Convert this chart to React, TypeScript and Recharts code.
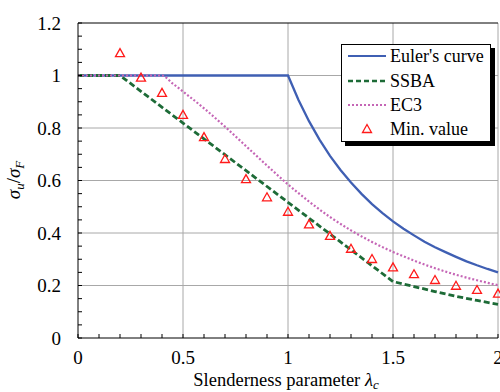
import React from 'react';
import {
  ComposedChart,
  Line,
  Scatter,
  XAxis,
  YAxis,
  CartesianGrid,
  ReferenceLine,
  Legend,
} from 'recharts';

const FONT = 'Liberation Serif, Times New Roman, DejaVu Serif, serif';

// Euler's curve
const EULER_LAMBDA = [0, 1, 1.05, 1.1, 1.15, 1.2, 1.25, 1.3, 1.35, 1.4, 1.45, 1.5, 1.55, 1.6, 1.65, 1.7, 1.75, 1.8, 1.85, 1.9, 1.95, 2];
const EULER_VALUE = [1, 1, 0.907, 0.826, 0.756, 0.694, 0.64, 0.592, 0.549, 0.51, 0.476, 0.444, 0.416, 0.391, 0.367, 0.346, 0.327, 0.309, 0.292, 0.277, 0.263, 0.25];

// SSBA
const SSBA_LAMBDA = [0, 0.2, 1.5, 1.6, 1.7, 1.8, 1.9, 2];
const SSBA_VALUE = [1, 1, 0.215, 0.196, 0.177, 0.159, 0.143, 0.128];

// EC3
const EC3_LAMBDA = [0, 0.4, 0.45, 0.5, 0.6, 0.7, 0.8, 0.9, 1, 1.1, 1.2, 1.3, 1.4, 1.5, 1.6, 1.7, 1.8, 1.9, 2];
const EC3_VALUE = [1, 1, 0.97, 0.939, 0.875, 0.805, 0.731, 0.657, 0.585, 0.52, 0.461, 0.41, 0.366, 0.328, 0.295, 0.266, 0.241, 0.22, 0.201];

// Min. value
const MIN_LAMBDA = [0.2, 0.3, 0.4, 0.5, 0.6, 0.7, 0.8, 0.9, 1, 1.1, 1.2, 1.3, 1.4, 1.5, 1.6, 1.7, 1.8, 1.9, 2];
const MIN_VALUE = [1.085, 0.992, 0.934, 0.85, 0.765, 0.682, 0.605, 0.536, 0.481, 0.433, 0.389, 0.34, 0.301, 0.269, 0.243, 0.221, 0.199, 0.183, 0.169];

const X_TICKS = [0, 0.1, 0.2, 0.3, 0.4, 0.5, 0.6, 0.7, 0.8, 0.9, 1, 1.1, 1.2, 1.3, 1.4, 1.5, 1.6, 1.7, 1.8, 1.9, 2];
const X_LABELS = [0, 0.5, 1, 1.5, 2];
const Y_TICKS = [0, 0.05, 0.1, 0.15, 0.2, 0.25, 0.3, 0.35, 0.4, 0.45, 0.5, 0.55, 0.6, 0.65, 0.7, 0.75, 0.8, 0.85, 0.9, 0.95, 1, 1.05, 1.1, 1.15, 1.2];
const Y_LABELS = [0, 0.2, 0.4, 0.6, 0.8, 1, 1.2];

const LEGEND_ITEMS = ["Euler's curve", 'SSBA', 'EC3', 'Min. value'];

const BLUE = '#3f5fb3';
const GREEN = '#1d6b37';
const PURPLE = '#c566b6';
const RED = '#ff1a1a';
const GRID = '#a8a8a8';

const toPoints = (xs: number[], ys: number[]) => xs.map((x, i) => ({ x, y: ys[i] }));

const eulerData = toPoints(EULER_LAMBDA, EULER_VALUE);
const ssbaData = toPoints(SSBA_LAMBDA, SSBA_VALUE);
const ec3Data = toPoints(EC3_LAMBDA, EC3_VALUE);
const minData = toPoints(MIN_LAMBDA, MIN_VALUE);

const isLabel = (list: number[]) => (v: number) =>
  list.some((l) => Math.abs(l - v) < 1e-6) ? String(v) : '';

function Triangle(props: any) {
  const { cx, cy } = props;
  if (cx == null || cy == null) return null;
  return (
    <polygon
      points={`${cx},${cy - 4.5} ${cx - 4.5},${cy + 3.5} ${cx + 4.5},${cy + 3.5}`}
      fill="none"
      stroke={RED}
      strokeWidth={1.3}
    />
  );
}

function LegendBox() {
  const rows = [11, 36, 60, 84];
  return (
    <div
      style={{
        width: 148,
        height: 96,
        border: '1px solid #000',
        boxShadow: '4px 4px 0 #000',
        background: '#fff',
      }}
    >
      <svg width={148} height={96} style={{ display: 'block' }}>
        <line x1={6} x2={44} y1={rows[0]} y2={rows[0]} stroke={BLUE} strokeWidth={2.2} />
        <line x1={6} x2={44} y1={rows[1]} y2={rows[1]} stroke={GREEN} strokeWidth={2.5} strokeDasharray="5 3" />
        <line x1={6} x2={44} y1={rows[2]} y2={rows[2]} stroke={PURPLE} strokeWidth={2.2} strokeDasharray="2 2" />
        <Triangle cx={25} cy={rows[3]} />
        {LEGEND_ITEMS.map((t, i) => (
          <text key={t} x={48} y={rows[i] + 6} style={{ fontFamily: FONT, fontSize: 18 }} fill="#000">
            {t}
          </text>
        ))}
      </svg>
    </div>
  );
}

const XLabel = () => (
  <text x={286} y={386} textAnchor="middle" style={{ fontFamily: FONT, fontSize: 18.5 }} fill="#000">
    Slenderness parameter <tspan fontStyle="italic">λ</tspan>
    <tspan fontStyle="italic" fontSize={13} dy={2.5}>c</tspan>
  </text>
);

const YLabel = () => (
  <text transform="translate(20,180) rotate(-90)" textAnchor="middle" style={{ fontFamily: FONT, fontSize: 19 }} fill="#000">
    <tspan fontStyle="italic">σ</tspan>
    <tspan fontStyle="italic" fontSize={13} dy={4}>u</tspan>
    <tspan dy={-4}>/</tspan>
    <tspan fontStyle="italic">σ</tspan>
    <tspan fontStyle="italic" fontSize={13} dy={4}>F</tspan>
  </text>
);

const TICK_STYLE = { fill: '#000', fontSize: 19, fontFamily: FONT, style: { fontFamily: FONT } };

export default function App() {
  return (
    <div style={{ position: 'absolute', left: 0, top: 0, width: 500, height: 392, background: '#fff', fontFamily: FONT }}>
      <ComposedChart width={500} height={392} margin={{ top: 23, right: 2, bottom: 0, left: 0 }} style={{ fontFamily: FONT }}>
        <CartesianGrid
          stroke={GRID}
          horizontalValues={[0.2, 0.4, 0.6, 0.8, 1]}
          verticalValues={[0.5, 1, 1.5, 2]}
        />
        <XAxis
          type="number"
          dataKey="x"
          domain={[0, 2]}
          ticks={X_TICKS}
          interval={0}
          height={54}
          tickSize={-4}
          tickMargin={17}
          tickFormatter={isLabel(X_LABELS)}
          tick={TICK_STYLE}
          axisLine={{ stroke: '#000' }}
          tickLine={{ stroke: '#000' }}
          label={<XLabel />}
        />
        <YAxis
          type="number"
          domain={[0, 1.2]}
          ticks={Y_TICKS}
          interval={0}
          width={78}
          tickSize={-4}
          tickMargin={21}
          tickFormatter={isLabel(Y_LABELS)}
          tick={TICK_STYLE}
          axisLine={{ stroke: '#000' }}
          tickLine={{ stroke: '#000' }}
          label={<YLabel />}
        />
        <ReferenceLine y={1.2} stroke="#000" />
        <Line data={eulerData} dataKey="y" type="linear" stroke={BLUE} strokeWidth={2.3} dot={false} activeDot={false} isAnimationActive={false} />
        <Line data={ssbaData} dataKey="y" type="linear" stroke={GREEN} strokeWidth={2.8} strokeDasharray="6 3" dot={false} activeDot={false} isAnimationActive={false} />
        <Line data={ec3Data} dataKey="y" type="monotone" stroke={PURPLE} strokeWidth={2.2} strokeDasharray="2 2" dot={false} activeDot={false} isAnimationActive={false} />
        <Scatter data={minData} dataKey="y" shape={<Triangle />} isAnimationActive={false} />
        <Legend
          layout="vertical"
          align="center"
          verticalAlign="middle"
          content={<LegendBox />}
          wrapperStyle={{ left: 341, top: 44, width: 150, height: 98 }}
        />
      </ComposedChart>
    </div>
  );
}
